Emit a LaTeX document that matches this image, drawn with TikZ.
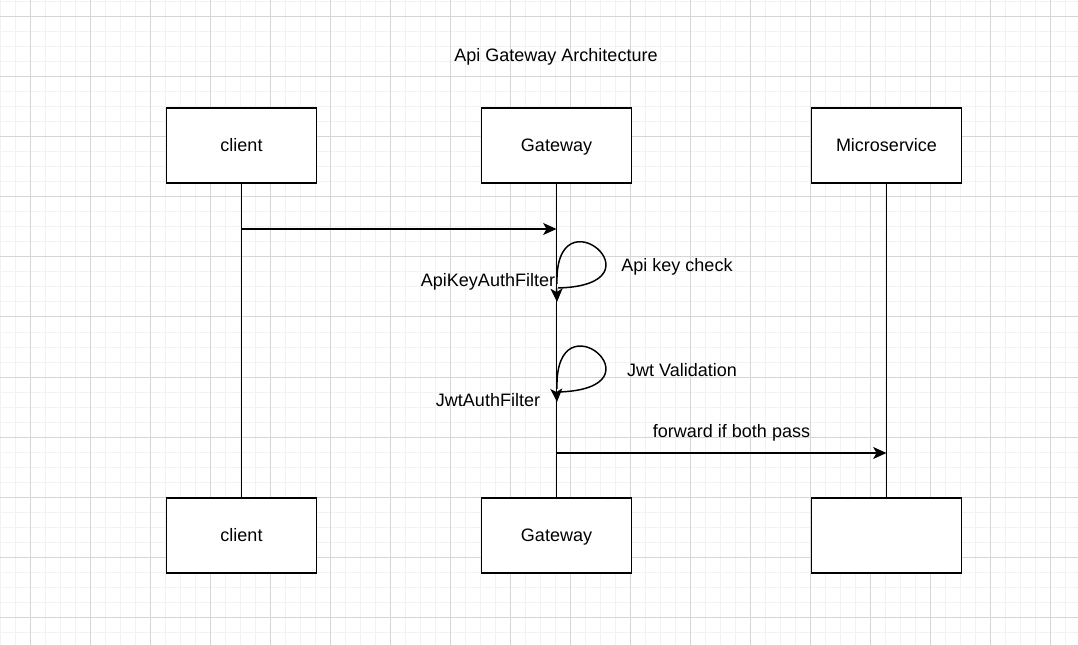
\documentclass[tikz,border=0pt]{standalone}
\usepackage{fontspec}
\setmainfont{Liberation Sans}
\usetikzlibrary{arrows.meta}

\begin{document}
\begin{tikzpicture}[x=0.75pt,y=-0.75pt,font=\fontsize{13.5}{16}\selectfont,line width=1.1pt,
  every node/.style={text height=11pt,text depth=1.3pt}]
% Styles: boxes, lifelines and messages
\tikzstyle{actor box}=[draw,fill=white,minimum width=112.5pt,minimum height=56.25pt,inner sep=0];
\tikzstyle{life line}=[draw];
\tikzstyle{msg}=[draw,-{Stealth[length=10pt,width=9pt,inset=2.5pt]}];
\tikzstyle{minor grid}=[draw=black!5,line width=0.75pt];
\tikzstyle{major grid}=[draw=black!16,line width=0.75pt];
\useasboundingbox(0,0)rectangle(1078,645);
\fill[white](0,0)rectangle(1078,645);
% background grid
\foreach \x in {0,15,...,1078}\draw[minor grid](\x,0)--(\x,645);
\foreach \y in {2,17,...,645}\draw[minor grid](0,\y)--(1078,\y);
\foreach \x in {30,90,...,1078}\draw[major grid](\x,0)--(\x,645);
\foreach \y in {17,77,...,645}\draw[major grid](0,\y)--(1078,\y);
% title
\node(title)at(556,55){Api Gateway Architecture};
% The actors
\node(client)[actor box]at(241.5,145.5){client};
\node(gw)[actor box]at(556.5,145.5){Gateway};
\node(ms)[actor box]at(886.5,145.5){Microservice};
\node(client2)[actor box]at(241.5,535.5){client};
\node(gw2)[actor box]at(556.5,535.5){Gateway};
\node(ms2)[actor box]at(886.5,535.5){};
% lifelines
\draw[life line](client)--(client2);
\draw[life line](gw)--(gw2);
\draw[life line](ms)--(ms2);
% messages
\coordinate(m1)at(0,229);
\coordinate(m4)at(0,453);
\draw[msg](client|-m1)--(gw|-m1);
\draw[msg](gw|-m4)--node[above=6.5pt,xshift=7.5pt]{forward if both pass}(ms|-m4);
% self checks on the gateway
\coordinate(a1)at(557,284);
\coordinate(a2)at(558,288);
\coordinate(a3)at(557,302);
\draw(a1)..controls(554,188)and(668,285)..(a2);
\draw[msg](gw|-a2)--(a3);
\coordinate(b1)at(557,389);
\coordinate(b2)at(558,392);
\coordinate(b3)at(557,402);
\draw(b1)..controls(554,292)and(668,389)..(b2);
\draw[msg](gw|-b2)--(b3);
% labels
\node(keycheck)at(677,265){Api key check};
\node(keyfilter)at(488,280){ApiKeyAuthFilter};
\node(jwtcheck)at(682,370){Jwt Validation};
\node(jwtfilter)at(488,400){JwtAuthFilter};
\end{tikzpicture}
\end{document}
